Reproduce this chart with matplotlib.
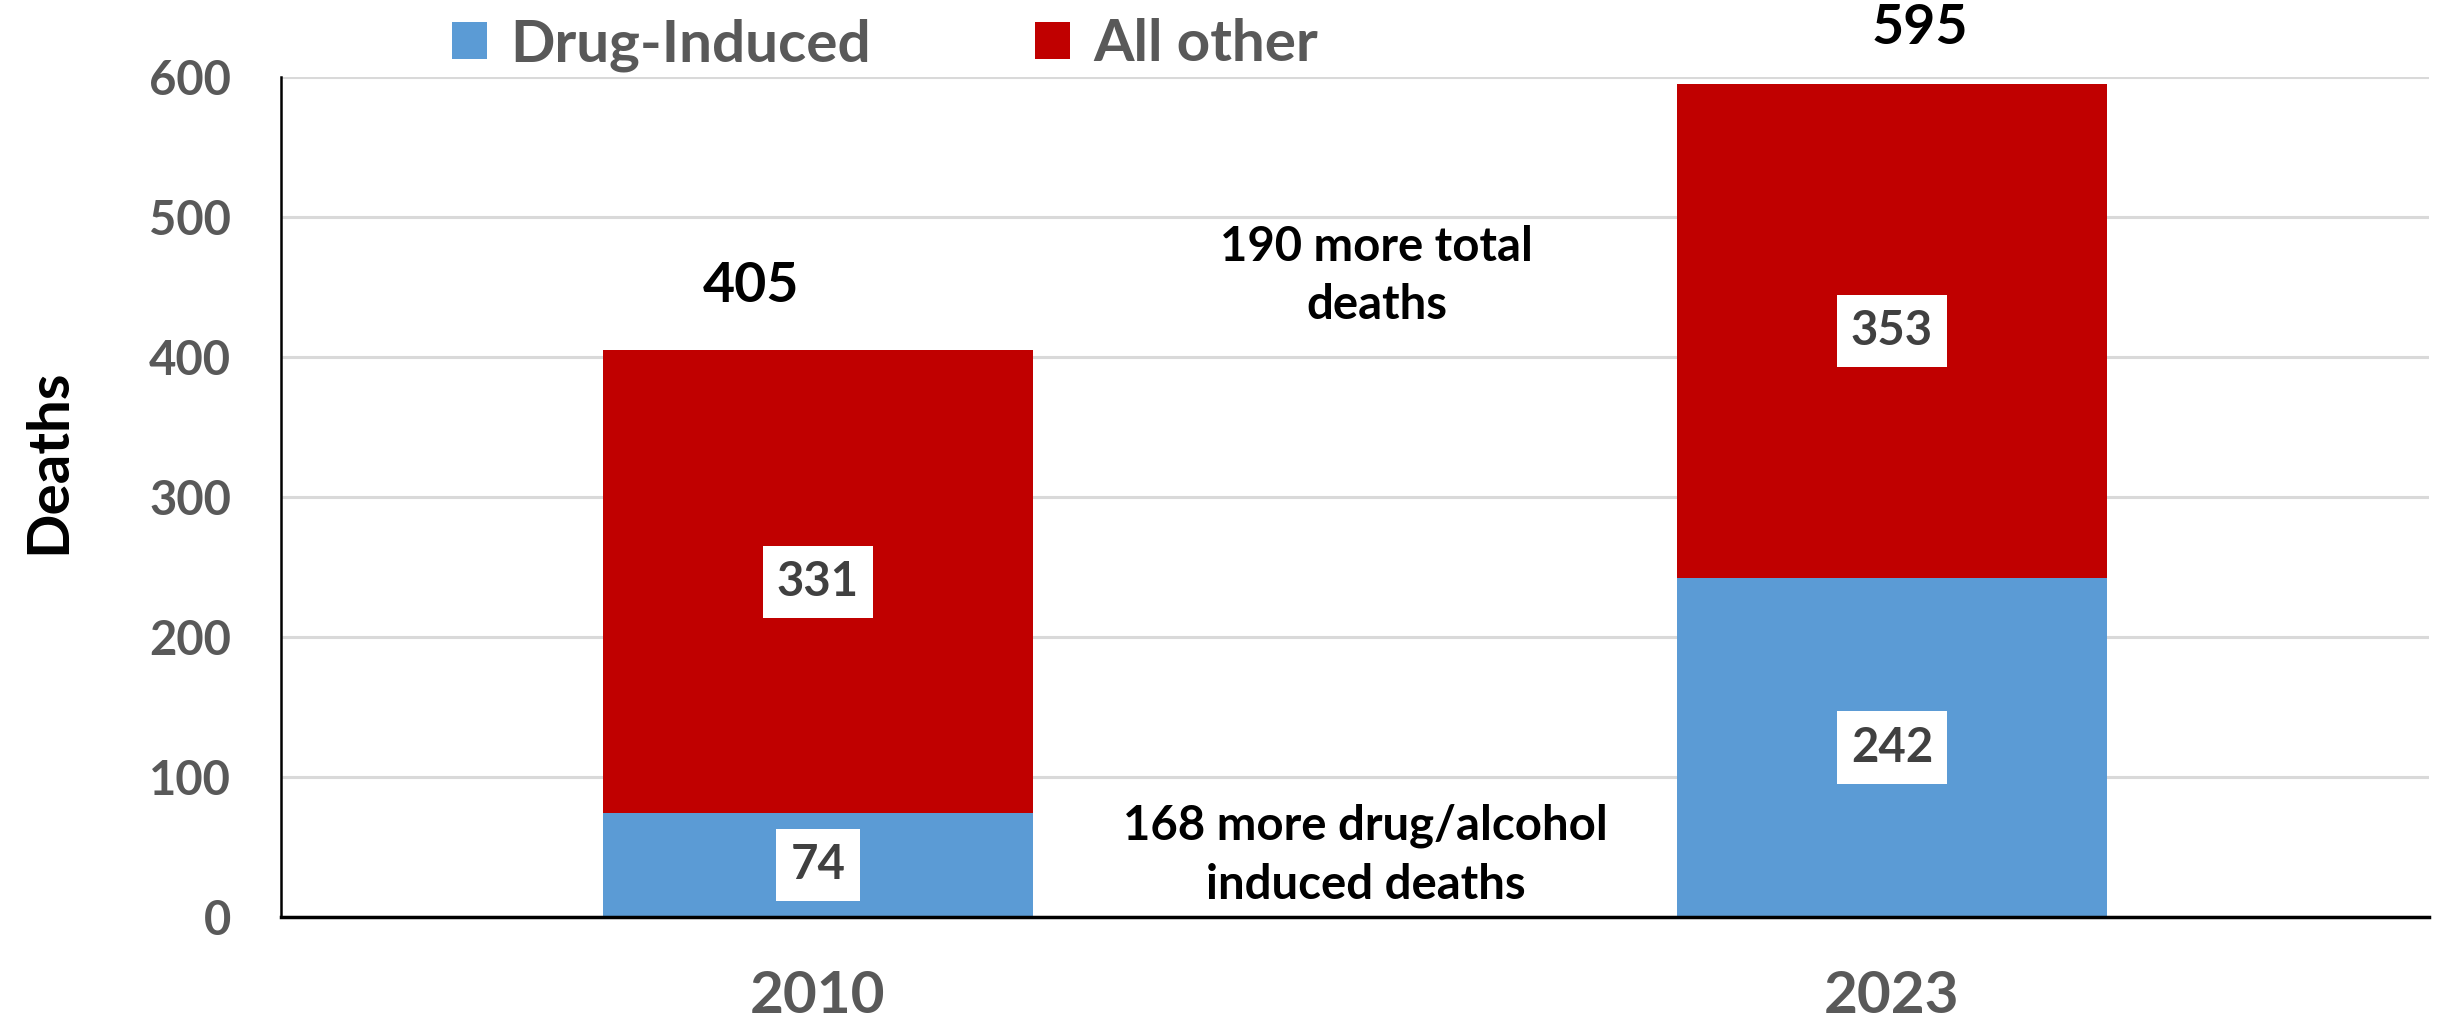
import matplotlib.pyplot as plt
import numpy as np

plt.rcParams['font.family'] = ['Lato', 'DejaVu Sans']
plt.rcParams['font.weight'] = 'bold'

years = ['2010', '2023']
drug_induced = [74, 242]
all_other = [331, 353]
totals = [405, 595]

blue = '#5B9BD5'
red = '#C00000'

fig = plt.figure(figsize=(24.38, 10.23), dpi=100)
ax = fig.add_axes([281 / 2438, (1023 - 917) / 1023, 2148 / 2438, 840 / 1023])

x = np.arange(len(years))
b1 = ax.bar(x, drug_induced, width=0.4, color=blue, label='Drug-Induced', zorder=3)
b2 = ax.bar(x, all_other, width=0.4, bottom=drug_induced, color=red, label='All other', zorder=3)

# segment labels in white boxes
for i in range(len(years)):
    for val, base in [(drug_induced[i], 0), (all_other[i], drug_induced[i])]:
        ax.text(x[i], base + val / 2, str(val), ha='center', va='center',
                fontsize=34, fontweight='bold', color='#404040', zorder=5,
                bbox=dict(boxstyle='square,pad=0.3', fc='white', ec='none'))

# totals, placed by hand like the original text boxes
ax.text(x[0] - 0.062, 451, str(totals[0]), ha='center', va='center',
        fontsize=40, fontweight='bold', color='black')
ax.text(x[1] + 0.026, 635, str(totals[1]), ha='center', va='center',
        fontsize=40, fontweight='bold', color='black', clip_on=False)

ax.text(0.52, 458, '190 more total\ndeaths', ha='center', va='center',
        fontsize=34, fontweight='bold', color='black', linespacing=1.4)
ax.text(0.51, 44, '168 more drug/alcohol\ninduced deaths', ha='center', va='center',
        fontsize=34, fontweight='bold', color='black', linespacing=1.4)

ax.set_xlim(-0.5, 1.5)
ax.set_ylim(0, 600)
ax.set_yticks(range(0, 601, 100))
ax.set_xticks(x)
ax.set_xticklabels(years)
ax.tick_params(axis='y', length=0, pad=36, labelsize=34, labelcolor='#595959')
ax.tick_params(axis='x', length=0, pad=38, labelsize=42, labelcolor='#595959')
for lab in ax.get_xticklabels() + ax.get_yticklabels():
    lab.set_fontweight('bold')

ax.grid(axis='y', color='#D9D9D9', linewidth=2.2, zorder=0)
ax.set_axisbelow(True)
for s in ['top', 'right']:
    ax.spines[s].set_visible(False)
ax.spines['left'].set_linewidth(1.8)
ax.spines['bottom'].set_linewidth(2.5)
ax.spines['left'].set_zorder(4)
ax.spines['bottom'].set_zorder(4)

ax.set_ylabel('Deaths', fontsize=42, fontweight='bold', color='black')
ax.yaxis.set_label_coords((75 - 281) / 2148, 0.542)

leg = fig.legend(handles=[b1, b2], labels=['Drug-Induced', 'All other'], ncol=2,
                 loc='center', bbox_to_anchor=(885 / 2438, 1 - 45 / 1023),
                 frameon=False, fontsize=42, handlelength=0.6, handleheight=0.6,
                 handletextpad=0.4, columnspacing=2.8, borderaxespad=0)
for t in leg.get_texts():
    t.set_color('#595959')
    t.set_fontweight('bold')

fig.savefig('out.png', dpi=100)
